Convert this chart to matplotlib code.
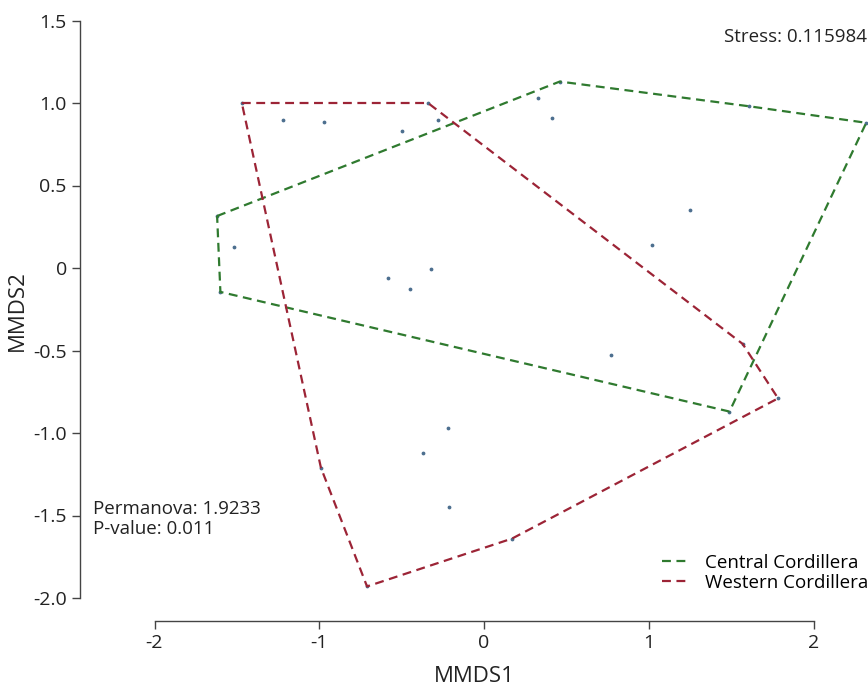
import matplotlib
matplotlib.use("Agg")
import matplotlib.pyplot as plt

plt.rcParams['font.family'] = ['Open Sans', 'DejaVu Sans']

# site scores on the two MDS axes
pts_x = [-1.62, 0.46, 1.61, 2.32, 1.49, -1.60, -1.52, 0.33, 0.41, 1.25, 1.02, 0.77,
         -1.47, -0.34, 1.57, 1.785, 0.17, -0.71, -0.99, -1.22, -0.97, -0.50, -0.28,
         -0.58, -0.45, -0.32, -0.37, -0.22, -0.21]
pts_y = [0.315, 1.13, 0.98, 0.88, -0.87, -0.145, 0.13, 1.03, 0.91, 0.35, 0.14, -0.53,
         1.00, 1.00, -0.46, -0.79, -1.64, -1.93, -1.21, 0.90, 0.885, 0.83, 0.90,
         -0.06, -0.13, -0.005, -1.12, -0.97, -1.45]

# convex hull vertices of each group
central_x = [-1.62, 0.46, 1.61, 2.32, 1.49, -1.60, -1.62]
central_y = [0.315, 1.13, 0.98, 0.88, -0.87, -0.145, 0.315]
western_x = [-1.47, -0.34, 1.57, 1.785, 0.17, -0.71, -0.99, -1.47]
western_y = [1.00, 1.00, -0.46, -0.79, -1.64, -1.93, -1.21, 1.00]

fig = plt.figure(figsize=(8.68, 6.91), dpi=100)
ax = fig.add_axes([80/868, 70/691, 788/868, 621/691])

ax.scatter(pts_x, pts_y, s=3, color='#4d6f8f', zorder=2)
ax.plot(central_x, central_y, ls=(0, (4, 2.5)), color='#2f7a2f', lw=1.6,
        label='Central Cordillera', zorder=3)
ax.plot(western_x, western_y, ls=(0, (4, 2.5)), color='#9c2436', lw=1.6,
        label='Western Cordillera', zorder=3)

ax.set_xlim((80 - 484) / 164.75, (868 - 484) / 164.75)
ax.set_ylim((268 - 621) / 165, 268 / 165)

for s in ['top', 'right']:
    ax.spines[s].set_visible(False)
ax.spines['left'].set_bounds(-2, 1.5)
ax.spines['bottom'].set_bounds(-2, 2)
for s in ['left', 'bottom']:
    ax.spines[s].set_color('#444444')
    ax.spines[s].set_linewidth(1.0)

ax.set_xticks([-2, -1, 0, 1, 2])
ax.set_xticklabels(['-2', '-1', '0', '1', '2'])
ax.set_yticks([1.5, 1.0, 0.5, 0, -0.5, -1.0, -1.5, -2.0])
ax.set_yticklabels(['1.5', '1.0', '0.5', '0', '-0.5', '-1.0', '-1.5', '-2.0'])
ax.tick_params(direction='out', length=6, width=1.0, color='#444444',
               labelsize=14, labelcolor='#222222', pad=3.5)

ax.set_xlabel('MMDS1', fontsize=16, color='#222222', labelpad=10)
ax.set_ylabel('MMDS2', fontsize=16, color='#222222', labelpad=4)

fig.text(0.999, 1 - 37/691, 'Stress: 0.115984', ha='right', va='center',
         fontsize=13.5, color='#222222')
fig.text(93/868, 1 - 519/691, 'Permanova: 1.9233\nP-value: 0.011', ha='left',
         va='center', fontsize=13.5, color='#222222', linespacing=1.15)

ax.legend(loc='lower right', bbox_to_anchor=(1.01, 0.035), frameon=False,
          fontsize=13.5, handlelength=1.4, handletextpad=0.9, labelspacing=0.12,
          borderaxespad=0)

fig.savefig('out.png', dpi=100)
